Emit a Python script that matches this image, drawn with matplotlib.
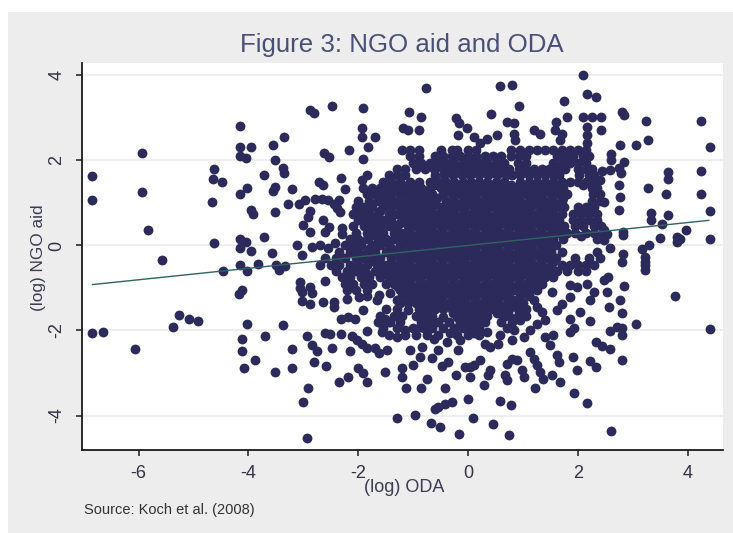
import matplotlib
matplotlib.use("Agg")
import matplotlib.pyplot as plt
from matplotlib.patches import Rectangle

W, H = 733, 533
TITLE = "Figure 3: NGO aid and ODA"
X_LABEL = "(log) ODA"
Y_LABEL = "(log) NGO aid"
SOURCE = "Source: Koch et al. (2008)"
x_ticks = [-6, -4, -2, 0, 2, 4]
y_ticks = [-4, -2, 0, 2, 4]
fit_oda = [-6.84, 4.38]
fit_ngo = [-0.92, 0.59]

left_points = [(-6.84,1.63),(-6.84,1.06),(-5.93,2.18),(-5.93,1.26),(-5.83,.37),(-5.57,-.35),(-4.62,1.80),(-4.64,1.56),(-4.49,1.49),(-4.66,1.02),(-4.62,.06),(-4.15,2.81),(-4.15,2.32),(-3.95,2.32),(-4.15,2.10),(-4.04,2.06),(-4.15,1.20),(-4.03,1.36),(-3.95,.84),(-3.92,.75),(-4.15,.15),(-4.04,.08),(-4.15,-.06),(-3.95,-.13),(-3.72,1.65),(-3.72,.19),(-3.58,-.18),(-3.55,2.36),(-3.35,2.54),(-3.52,2.02),(-3.38,1.81),(-3.35,1.71),(-3.52,1.38),(-3.55,1.28),(-3.21,1.32),(-3.52,.78),(-3.28,.97),(-3.08,.97),(-2.97,1.06),(-2.88,3.18),(-2.80,3.12),(-2.48,3.27),(-1.91,3.23),(-1.94,2.75),(-1.94,2.54),(-1.83,2.32),(-2.17,2.24),(-2.62,2.18),(-2.54,2.08),(-1.91,2.04),(-2.71,1.49),(-2.65,1.42),(-2.31,1.59),(-2.24,1.32),(-1.94,1.53),(-1.85,1.65),(-1.91,1.34),(-2.79,1.10),(-2.67,1.10),(-2.55,1.06),(-2.45,.98),(-2.36,1.06),(-2.39,.87),(-2.33,.79),(-2.88,.81),(-2.91,.67),(-2.65,.61),(-3.01,.47),(-2.88,.32),(-2.60,.32),(-2.54,.44),(-2.30,.40),(-2.30,.28),(-3.11,.02),(-2.85,-.03),(-3.03,-.23),(-2.7,0.0),(-2.55,-.05),(-2.42,0.05),
(-4.46,-.61),(-4.15,-.46),(-4.03,-.60),(-3.82,-.43),(-3.49,-.46),(-3.45,-.58),(-3.33,-.49),(-4.12,-1.05),(-4.17,-1.15),(-3.06,-.86),(-3.06,-1.01),(-3.03,-1.09),(-2.88,-.97),(-2.85,-1.11),(-3.03,-1.30),(-2.88,-1.37),(-2.65,-1.33),(-2.45,-1.33),(-2.45,-1.44),(-2.60,-.83),(-2.21,-1.27),(-1.98,-1.21),(-1.91,-1.52),(-2.31,-1.72),(-2.18,-1.68),(-2.06,-1.72),(-5.26,-1.64),(-5.08,-1.72),(-4.92,-1.77),(-5.37,-1.92),(-6.84,-2.06),(-6.64,-2.03),(-6.07,-2.44),(-4.03,-1.84),(-4.12,-2.19),(-4.12,-2.48),(-3.88,-2.70),(-4.09,-2.89),(-3.69,-2.14),(-3.38,-1.88),(-3.21,-2.44),(-3.21,-2.89),(-3.52,-2.98),(-2.94,-2.14),(-2.85,-2.35),(-2.76,-2.48),(-2.80,-2.74),(-2.60,-2.06),(-2.52,-2.09),(-2.48,-2.40),(-2.59,-2.84),(-2.31,-2.09),(-2.12,-2.14),(-2.03,-2.23),(-1.94,-2.31),(-1.85,-2.40),(-2.15,-2.48),(-1.85,-2.01),(-2.0,-2.89),(-1.91,-3.01),(-1.85,-3.21),(-2.18,-3.09),(-2.36,-3.22),(-2.91,-3.35),(-3.01,-3.68),(-2.94,-4.53)]

upper_right_points = [(-.765,3.70),(.58,3.74),(.80,3.78),(2.09,4.00),(2.16,3.55),(2.33,3.49),(1.75,3.40),(.92,3.27),(-1.07,3.14),(-.86,3.01),(-.22,3.0),(-.16,2.89),(.41,3.08),(.70,2.90),(.83,2.88),(-1.19,2.77),(-1.09,2.71),(-.89,2.71),(-.02,2.75),(-.19,2.59),(.10,2.55),(-1.69,2.55),(1.19,2.71),(1.31,2.63),(.83,2.63),(.86,2.47),(.52,2.59),(.34,2.51),(.22,2.40),(1.60,2.90),(1.80,3.01),(1.58,2.71),(1.71,2.63),(1.68,2.47),(2.10,3.02),(2.25,3.02),(2.42,3.02),(2.16,2.79),(2.16,2.59),(2.16,2.40),(2.42,2.71),(2.81,3.14),(2.83,3.06),(3.23,2.93),(4.24,2.93),(3.06,2.36),(3.27,2.47),(2.77,2.36),(4.41,2.32),(2.60,2.16),(2.60,2.0),(2.83,1.96),(2.43,1.75),(2.59,1.77),(2.74,1.81),(2.78,1.71),(3.64,1.73),(3.64,1.57),(4.24,1.75),(2.74,1.42),(2.77,1.13),(3.27,1.36),(3.60,1.20),(4.24,1.22),(2.74,.84),(4.41,.80),(3.32,.77),(3.32,.59),(3.64,.71),(3.53,.50),(3.97,.36),(2.82,.32),(2.82,.24),(3.50,.18),(3.80,.19),(3.86,.16),(3.80,.09),(4.41,.15),(3.30,.02),(2.59,-.06),(3.16,-.09),(3.22,-.27),(3.22,-.47),(2.82,-.19),(2.80,-.39),(2.47,1.02),(2.40,1.22),(2.40,1.53),(2.47,.36),(2.53,.28),(2.47,.12),(2.34,.59)]

lower_right_points = [(3.22,-.58),(3.22,-.38),(3.77,-1.19),(2.83,-.95),(2.53,-1.09),(2.47,-.82),(2.54,-.74),(2.77,-1.29),(2.80,-1.58),(2.56,-1.45),(3.06,-1.84),(4.41,-1.97),(2.81,-2.11),(2.81,-1.95),(2.71,-1.92),(2.59,-2.01),(2.21,-1.77),(2.33,-2.27),(2.43,-2.37),(2.59,-2.44),(2.80,-2.70),(1.91,-2.62),(2.21,-2.71),(2.33,-2.87),(1.98,-2.92),(1.68,-3.22),(1.92,-3.46),(2.16,-3.70),(2.60,-4.37),(.08,-4.05),(0,-3.62),(.45,-4.21),(.75,-4.45),(-.16,-4.43),(-.52,-4.27),(-.68,-4.17),(-.97,-3.98),(-1.29,-4.05),(.58,-3.66),(.78,-3.76),(-.30,-3.68),(-.42,-3.72),(-.54,-3.80),(-.60,-3.85),(-.42,-3.35),(-.86,-3.35),(-1.14,-3.35),(-.75,-3.13),(-.22,-3.04),(.28,-3.27),(.04,-3.09),(.04,-2.86),(-.05,-2.86),(.40,-2.93),(.37,-3.05),(.67,-3.05),(.70,-3.17),(1.22,-3.35),(1.01,-3.09),(.98,-2.93),(.70,-2.78),(.80,-2.66),(.89,-2.70),(1.13,-2.50),(1.19,-2.66),(1.25,-2.82),(1.31,-2.97),(1.37,-3.13),(1.52,-3.05),(1.62,-2.58),(1.65,-2.74),(1.49,-2.35),(1.40,-2.15),(1.55,-2.11),(1.86,-2.03),(1.92,-1.95),(1.40,-1.76),(1.86,-1.72),(2.04,-1.56),(1.62,-1.52),(1.71,-1.37),(1.52,-1.09),(1.86,-1.21),(2.22,-1.29),(2.29,-1.09),(1.98,-.97),(2.16,-.90),(1.86,-.93),(1.34,-1.56),(1.19,-1.29),(1.25,-1.44),(1.01,-2.15),(1.13,-1.99),(1.25,-1.84),(.83,-1.99),(.80,-2.23),(.40,-2.39),(.31,-2.31),(.55,-2.31),(.58,-2.11),(.34,-2.03),(.22,-2.70),(.10,-2.82),(-.36,-2.74),(-.48,-2.84),(-1.0,-2.82),(-1.21,-2.89),(-1.21,-3.09),(-1.51,-2.97),(-.54,-2.45),(-.66,-2.64),(-.87,-2.62),(-.84,-2.39),(-1.06,-2.46),(-1.48,-2.46),(-1.63,-2.54),(-1.69,-2.40),(-.18,-2.46),(-.15,-2.23),(-.33,-2.07),(-.39,-2.27),(-1.30,-2.15),(-1.15,-1.99),(-.88,-1.92),(-.63,-2.19),(-1.57,-2.03),(-1.51,-1.72),(-1.42,-1.80),(.10,-2.07),(-.02,-1.88),(-.45,-1.68),(-.21,-1.68),(.64,-1.68),(.95,-1.76),(.52,-1.60),(-1.62,-1.17),(-1.66,-1.29),(-1.30,-1.29),(-1.42,-1.13),(-1.09,-1.52)]

# dense centre of the cloud, read band by band: (NGO aid, [ODA values])
core_bands = [
(2.25,[-1.2,-1.05,-.9,-.5,-.3,-.2,0.,.15,.78,.95,1.1,1.25,1.4,1.55,1.7,1.85,2.0,2.15]),
(2.1,[-1.05,-.9,-.6,-.45,-.3,-.15,0.,.15,.3,.45,.6,.78,.92,1.06,1.62,1.76,1.9,2.1,2.2]),
(1.95,[-1.0,-.85,-.7,-.55,-.4,-.25,-.1,.05,.2,.35,.5,.65,.9,1.05,1.55,1.7,1.85,2.0,2.15]),
(1.8,[-1.3,-1.15,-.95,-.78,-.62,-.46,-.3,-.15,0.,.15,.3,.45,.6,.75,.92,1.06,1.2,1.34,1.48,1.62,1.76,2.0,2.15,2.25]),
(1.65,[-1.45,-1.3,-1.15,-.6,-.44,-.28,-.12,.04,.2,.36,.52,.68,.8,.95,1.1,1.25,1.4,1.55,1.65,2.02,2.2,2.3]),
(1.5,[-1.55,-1.4,-1.25,-1.05,-.9,-.7,-.55,-.4,-.25,-.1,.05,.2,.35,.5,.65,.95,1.1,1.25,1.4,1.55,1.7,1.85,2.0,2.15,2.3]),
(1.35,[-1.75,-1.6,-1.45,-1.3,-1.15,-1.0,-.85,-.7,-.5,-.35,-.2,-.05,.1,.25,.4,.55,.7,.85,1.0,1.15,1.3,1.45,1.6,1.72,2.25,2.35]),
(1.2,[-1.85,-1.7,-1.55,-1.4,-1.25,-1.1,-.95,-.8,-.65,-.45,-.3,-.15,0.,.15,.3,.45,.6,.75,.9,1.05,1.2,1.35,1.5,1.65,1.8,2.28]),
(1.05,[-2.0,-1.8,-1.65,-1.5,-1.35,-1.2,-1.05,-.9,-.75,-.6,-.4,-.25,-.1,.05,.2,.35,.5,.65,.8,.95,1.1,1.25,1.4,1.55,1.7,2.25,2.4]),
(.9,[-2.05,-1.9,-1.75,-1.55,-1.4,-1.25,-1.1,-.95,-.8,-.65,-.5,-.35,-.2,-.05,.1,.25,.4,.55,.7,.85,1.0,1.15,1.3,1.45,1.6,1.75,2.0,2.15,2.3]),
(.75,[-2.1,-1.95,-1.8,-1.65,-1.45,-1.3,-1.15,-1.0,-.85,-.7,-.55,-.4,-.25,-.1,.05,.2,.35,.5,.65,.8,.95,1.1,1.25,1.4,1.55,1.7,1.9,2.05,2.2,2.35]),
(.6,[-2.0,-1.85,-1.7,-1.55,-1.4,-1.2,-1.05,-.9,-.75,-.6,-.45,-.3,-.15,0.,.15,.3,.45,.6,.75,.9,1.05,1.2,1.35,1.5,1.65,1.9,2.05,2.2]),
(.45,[-2.1,-1.9,-1.75,-1.6,-1.45,-1.3,-1.1,-.95,-.8,-.65,-.5,-.35,-.2,-.05,.1,.25,.4,.55,.7,.85,1.0,1.15,1.3,1.45,1.6,1.75,1.95,2.1,2.3,2.42]),
(.3,[-2.05,-1.85,-1.7,-1.55,-1.35,-1.2,-1.05,-.9,-.75,-.6,-.45,-.3,-.15,0.,.15,.3,.45,.6,.75,.9,1.05,1.2,1.35,1.5,1.65,1.8,1.95,2.15,2.3,2.45]),
(.15,[-2.15,-2.0,-1.85,-1.65,-1.5,-1.35,-1.15,-1.0,-.85,-.7,-.55,-.4,-.25,-.1,.05,.2,.35,.5,.65,.8,.95,1.1,1.25,1.4,1.55,1.72,2.35,2.45]),
(0.,[-2.25,-2.1,-1.95,-1.75,-1.6,-1.45,-1.25,-1.1,-.95,-.8,-.65,-.5,-.35,-.2,-.05,.1,.25,.4,.55,.7,.85,1.0,1.15,1.3,1.45,1.6]),
(-.15,[-2.35,-2.15,-2.0,-1.85,-1.7,-1.5,-1.35,-1.2,-1.05,-.9,-.75,-.6,-.45,-.3,-.15,0.,.15,.3,.45,.6,.75,.9,1.05,1.2,1.35,1.5,1.7,2.35]),
(-.3,[-2.6,-2.4,-2.25,-2.05,-1.9,-1.75,-1.6,-1.4,-1.25,-1.1,-.95,-.8,-.65,-.5,-.35,-.2,-.05,.1,.25,.4,.55,.7,.85,1.0,1.15,1.3,1.45,1.6,1.95,2.2,2.4]),
(-.45,[-2.7,-2.5,-2.35,-2.15,-2.0,-1.85,-1.65,-1.5,-1.35,-1.2,-1.05,-.9,-.75,-.6,-.45,-.3,-.15,0.,.15,.3,.45,.6,.75,.9,1.05,1.2,1.35,1.5,1.7,1.85,2.0,2.15,2.3]),
(-.6,[-2.4,-2.2,-2.05,-1.9,-1.7,-1.55,-1.4,-1.25,-1.1,-.95,-.8,-.65,-.5,-.35,-.2,-.05,.1,.25,.4,.55,.7,.85,1.0,1.15,1.3,1.45,1.62,1.8,2.0,2.15]),
(-.75,[-2.3,-2.15,-1.95,-1.8,-1.6,-1.45,-1.3,-1.15,-1.0,-.85,-.7,-.55,-.4,-.25,-.1,.05,.2,.35,.5,.65,.8,.95,1.1,1.25,1.4,1.55]),
(-.9,[-2.25,-2.1,-1.9,-1.75,-1.5,-1.35,-1.2,-1.05,-.9,-.75,-.6,-.45,-.3,-.15,0.,.15,.3,.45,.6,.75,.9,1.05,1.2,1.35]),
(-1.05,[-2.2,-2.05,-1.85,-1.25,-1.1,-.95,-.8,-.65,-.5,-.35,-.2,-.05,.1,.25,.4,.55,.7,.85,1.0,1.15,1.25]),
(-1.2,[-1.85,-1.2,-1.05,-.9,-.75,-.6,-.45,-.3,-.15,0.,.15,.3,.45,.6,.75,.95,1.1]),
(-1.35,[-1.25,-1.1,-.95,-.8,-.65,-.5,-.35,-.2,-.05,.1,.25,.4,.55,.7,.85,1.0]),
(-1.5,[-1.5,-1.3,-.9,-.75,-.6,-.45,-.3,-.15,0.,.15,.3,.45,.6,.75,.9,1.05]),
(-1.65,[-1.6,-1.35,-1.2,-.95,-.8,-.65,-.1,.05,.2,.35,.75,.9,1.05]),
(-1.8,[-1.65,-1.45,-1.25,-.85,-.7,-.55,-.35,-.15,0.,.15,.3,.6,.8]),
(-1.95,[-1.55,-1.3,-1.0,-.8,-.65,-.45,-.25,-.1,.05,.2,.7]),
(-2.1,[-1.45,-1.15,-.95,-.75,-.55,-.2,0.,.2]),
# overplotted observations between the bands above
(1.72,[-.35,.1,.45,1.0,1.3,1.6]),
(1.42,[-1.2,-.62,-.18,.28,.78,1.18,1.5,2.1]),
(1.12,[-1.48,-1.03,-.57,-.08,.37,.82,1.27,1.72]),
(.82,[-1.6,-1.18,-.72,-.28,.17,.62,1.07,1.52,2.1]),
(.52,[-1.65,-1.25,-.78,-.37,.08,.52,.97,1.42,2.0]),
(.22,[-1.78,-1.27,-.78,-.32,.12,.57,1.02,1.47,2.05]),
(.07,[-1.55,-1.02,-.58,-.12,.32,.77,1.22]),
(-.08,[-1.8,-1.38,-.88,-.42,.02,.48,.92,1.38]),
(-.38,[-1.7,-1.15,-.68,-.22,.22,.68,1.12,1.55]),
(-.68,[-1.85,-1.35,-.9,-.42,.02,.48,.92,1.38]),
(-.98,[-1.28,-.82,-.38,.12,.62,1.08]),
(-1.28,[-1.0,-.55,-.08,.38,.82]),
(-1.58,[-.72,-.28,.18,.65,.98]),
]

core_oda = [x for _, xs in core_bands for x in xs]
core_ngo = [y for y, xs in core_bands for _ in xs]
edge = left_points + upper_right_points + lower_right_points
oda = [p[0] for p in edge] + core_oda
ngo = [p[1] for p in edge] + core_ngo

plt.rcParams["font.family"] = ["Liberation Sans", "DejaVu Sans"]
plt.rcParams["axes.unicode_minus"] = False
fig = plt.figure(figsize=(W / 100, H / 100), dpi=100, facecolor="white")
fig.patches.append(Rectangle((8 / W, 0), 1 - 8 / W, 1 - 12 / H, transform=fig.transFigure,
                             facecolor="#ededed", edgecolor="none", zorder=-5))
ax = fig.add_axes([81.5 / W, 1 - 450 / H, (723 - 81.5) / W, (450 - 63) / H], facecolor="white")
ax.set_xlim(-7.04, 4.64)
ax.set_ylim(-4.81, 4.29)
ax.scatter(oda, ngo, s=50, color="#2b2a5a", linewidths=0, zorder=3)
ax.plot(fit_oda, fit_ngo, color="#2f6360", lw=1.0, zorder=4)
ax.yaxis.grid(True, color="#eeeeee", lw=1.5, zorder=0)
ax.set_axisbelow(True)
ax.spines["top"].set_visible(False)
ax.spines["right"].set_visible(False)
for s in ("left", "bottom"):
    ax.spines[s].set_linewidth(1.3)
    ax.spines[s].set_color("#1a1a1a")
ax.set_xticks(x_ticks)
ax.set_yticks(y_ticks)
ax.tick_params(axis="both", length=4.5, width=1.1, color="#1a1a1a", labelsize=13, labelcolor="#333344")
ax.tick_params(axis="x", pad=6)
ax.tick_params(axis="y", pad=7)
for t in ax.get_yticklabels():
    t.set_rotation(90)
    t.set_va("center")

fig.text(402 / W, 1 - 45 / H, TITLE, ha="center", va="center", fontsize=18.6, color="#4a4f78")
fig.text(404 / W, 1 - 487 / H, X_LABEL, ha="center", va="center", fontsize=13, color="#3c3c55")
fig.text(38 / W, 1 - 258 / H, Y_LABEL, ha="center", va="center", rotation=90, fontsize=12.4, color="#3c3c55")
fig.text(84 / W, 1 - 510 / H, SOURCE, ha="left", va="center", fontsize=10.5, color="#333333")
fig.savefig("out.png", dpi=100)
